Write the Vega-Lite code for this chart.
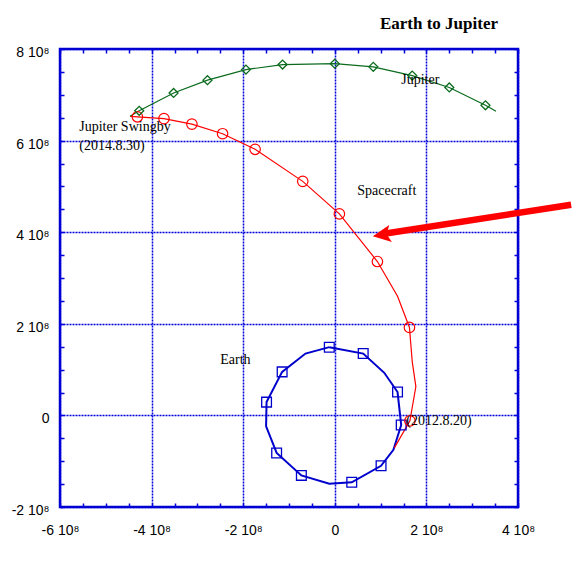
{
  "$schema": "https://vega.github.io/schema/vega-lite/v6.json",
  "width": 458,
  "height": 458,
  "autosize": {"type": "none"},
  "padding": {"left": 60, "top": 49, "right": 54, "bottom": 78},
  "background": "white",
  "config": {
    "view": {"stroke": "#0000cc", "strokeWidth": 2.5},
    "axis": {"labelFont": "Liberation Sans", "labelFontSize": 14, "labelColor": "black", "labelFlush": false, "labelOverlap": false, "labelBound": false, "title": null}
  },
  "title": {"text": "Earth to Jupiter", "anchor": "end", "frame": "group", "font": "Liberation Serif", "fontSize": 17, "fontWeight": "bold", "color": "black", "offset": 13, "dx": -20},
  "datasets": {
    "earth": [
      {"i": 1, "x": -0.12e8, "y": 1.49e8},
      {"i": 2, "x": 0.62e8, "y": 1.35e8},
      {"i": 3, "x": 1.08e8, "y": 0.93e8},
      {"i": 4, "x": 1.37e8, "y": 0.51e8},
      {"i": 5, "x": 1.45e8, "y": -0.21e8},
      {"i": 6, "x": 1.28e8, "y": -0.75e8},
      {"i": 7, "x": 1.01e8, "y": -1.10e8},
      {"i": 8, "x": 0.37e8, "y": -1.46e8},
      {"i": 9, "x": -0.12e8, "y": -1.49e8},
      {"i": 10, "x": -0.73e8, "y": -1.31e8},
      {"i": 11, "x": -1.27e8, "y": -0.82e8},
      {"i": 12, "x": -1.50e8, "y": -0.24e8},
      {"i": 13, "x": -1.49e8, "y": 0.29e8},
      {"i": 14, "x": -1.15e8, "y": 0.95e8},
      {"i": 15, "x": -0.64e8, "y": 1.35e8},
      {"i": 16, "x": -0.12e8, "y": 1.49e8}
    ],
    "earthMarks": [
      {"x": -0.12e8, "y": 1.49e8},
      {"x": 0.62e8, "y": 1.35e8},
      {"x": 1.37e8, "y": 0.51e8},
      {"x": 1.45e8, "y": -0.21e8},
      {"x": 1.01e8, "y": -1.10e8},
      {"x": 0.37e8, "y": -1.46e8},
      {"x": -0.73e8, "y": -1.31e8},
      {"x": -1.27e8, "y": -0.82e8},
      {"x": -1.49e8, "y": 0.29e8},
      {"x": -1.15e8, "y": 0.95e8}
    ],
    "craft": [
      {"i": 1, "x": -4.47e8, "y": 6.53e8},
      {"i": 2, "x": -4.31e8, "y": 6.52e8},
      {"i": 3, "x": -3.73e8, "y": 6.48e8},
      {"i": 4, "x": -3.12e8, "y": 6.36e8},
      {"i": 5, "x": -2.45e8, "y": 6.15e8},
      {"i": 6, "x": -1.74e8, "y": 5.81e8},
      {"i": 7, "x": -0.70e8, "y": 5.11e8},
      {"i": 8, "x": 0.10e8, "y": 4.40e8},
      {"i": 9, "x": 0.93e8, "y": 3.36e8},
      {"i": 10, "x": 1.37e8, "y": 2.60e8},
      {"i": 11, "x": 1.63e8, "y": 1.92e8},
      {"i": 12, "x": 1.69e8, "y": 1.18e8},
      {"i": 13, "x": 1.77e8, "y": 0.63e8},
      {"i": 14, "x": 1.64e8, "y": -0.12e8},
      {"i": 15, "x": 1.30e8, "y": -0.71e8}
    ],
    "craftMarks": [
      {"x": -4.31e8, "y": 6.52e8},
      {"x": -3.73e8, "y": 6.48e8},
      {"x": -3.12e8, "y": 6.36e8},
      {"x": -2.45e8, "y": 6.15e8},
      {"x": -1.74e8, "y": 5.81e8},
      {"x": -0.70e8, "y": 5.11e8},
      {"x": 0.10e8, "y": 4.40e8},
      {"x": 0.93e8, "y": 3.36e8},
      {"x": 1.63e8, "y": 1.92e8},
      {"x": 1.64e8, "y": -0.12e8}
    ],
    "jupiter": [
      {"i": 1, "x": -4.47e8, "y": 6.53e8},
      {"i": 2, "x": -4.27e8, "y": 6.65e8},
      {"i": 3, "x": -3.52e8, "y": 7.04e8},
      {"i": 4, "x": -2.78e8, "y": 7.32e8},
      {"i": 5, "x": -1.94e8, "y": 7.55e8},
      {"i": 6, "x": -1.14e8, "y": 7.66e8},
      {"i": 7, "x": 0.00e8, "y": 7.68e8},
      {"i": 8, "x": 0.84e8, "y": 7.61e8},
      {"i": 9, "x": 1.69e8, "y": 7.42e8},
      {"i": 10, "x": 2.50e8, "y": 7.16e8},
      {"i": 11, "x": 3.29e8, "y": 6.77e8},
      {"i": 12, "x": 3.52e8, "y": 6.64e8}
    ],
    "jupiterMarks": [
      {"x": -4.27e8, "y": 6.65e8},
      {"x": -3.52e8, "y": 7.04e8},
      {"x": -2.78e8, "y": 7.32e8},
      {"x": -1.94e8, "y": 7.55e8},
      {"x": -1.14e8, "y": 7.66e8},
      {"x": 0.00e8, "y": 7.68e8},
      {"x": 0.84e8, "y": 7.61e8},
      {"x": 1.69e8, "y": 7.42e8},
      {"x": 2.50e8, "y": 7.16e8},
      {"x": 3.29e8, "y": 6.77e8}
    ],
    "labels": [
      {"x": -5.58e8, "y": 6.30e8, "text": "Jupiter Swingby"},
      {"x": -5.58e8, "y": 5.89e8, "text": "(2014.8.30)"},
      {"x": 0.49e8, "y": 4.91e8, "text": "Spacecraft"},
      {"x": 1.45e8, "y": 7.33e8, "text": "Jupiter"},
      {"x": -2.50e8, "y": 1.22e8, "text": "Earth"},
      {"x": 1.56e8, "y": -0.12e8, "text": "(2012.8.20)"}
    ],
    "arrow": [
      {"x": 5.16e8, "y": 4.60e8, "x2": 1.04e8, "y2": 3.96e8, "tx": 0.83e8, "ty": 3.91e8}
    ]
  },
  "layer": [
    {
      "data": {"name": "earth"},
      "mark": {"type": "line", "color": "#0000cc", "strokeWidth": 2},
      "encoding": {
        "x": {"field": "x", "type": "quantitative", "scale": {"domain": [-6e8, 4e8], "nice": false, "zero": false},
          "axis": {"orient": "bottom", "values": [-6e8, -4e8, -2e8, 0, 2e8, 4e8], "labelExpr": "datum.value == 0 ? '0' : (datum.value / 1e8) + '  10⁸'", "grid": true, "gridColor": "#0000dd", "gridDash": [2, 1], "gridWidth": 1.5, "gridOpacity": 1, "domain": false, "ticks": false, "labelPadding": 16, "labelAlign": "center"}},
        "y": {"field": "y", "type": "quantitative", "scale": {"domain": [-2e8, 8e8], "nice": false, "zero": false},
          "axis": {"orient": "left", "values": [-2e8, 0, 2e8, 4e8, 6e8, 8e8], "labelExpr": "datum.value == 0 ? '0' : (datum.value / 1e8) + '  10⁸'", "grid": true, "gridColor": "#0000dd", "gridDash": [2, 1], "gridWidth": 1.5, "gridOpacity": 1, "domain": false, "ticks": false, "labelPadding": 11, "labelOffset": 3.5}},
        "order": {"field": "i", "type": "quantitative"}
      }
    },
    {
      "data": {"name": "craft"},
      "mark": {"type": "line", "color": "#ff0000", "strokeWidth": 1.2},
      "encoding": {
        "x": {"field": "x", "type": "quantitative", "scale": {"domain": [-6e8, 4e8], "nice": false, "zero": false},
          "axis": {"orient": "bottom", "values": [-6e8, -5.5e8, -5e8, -4.5e8, -4e8, -3.5e8, -3e8, -2.5e8, -2e8, -1.5e8, -1e8, -0.5e8, 0, 0.5e8, 1e8, 1.5e8, 2e8, 2.5e8, 3e8, 3.5e8, 4e8], "labels": false, "grid": false, "domain": false, "ticks": true, "tickSize": -4, "tickColor": "#0000dd", "tickWidth": 1.5}},
        "y": {"field": "y", "type": "quantitative", "scale": {"domain": [-2e8, 8e8], "nice": false, "zero": false},
          "axis": {"orient": "left", "values": [-2e8, -1.5e8, -1e8, -0.5e8, 0, 0.5e8, 1e8, 1.5e8, 2e8, 2.5e8, 3e8, 3.5e8, 4e8, 4.5e8, 5e8, 5.5e8, 6e8, 6.5e8, 7e8, 7.5e8, 8e8], "labels": false, "grid": false, "domain": false, "ticks": true, "tickSize": -4, "tickColor": "#0000dd", "tickWidth": 1.5}},
        "order": {"field": "i", "type": "quantitative"}
      }
    },
    {
      "data": {"name": "jupiter"},
      "mark": {"type": "line", "color": "#0a6b1e", "strokeWidth": 1.2},
      "encoding": {
        "x": {"field": "x", "type": "quantitative", "scale": {"domain": [-6e8, 4e8], "nice": false, "zero": false},
          "axis": {"orient": "top", "values": [-6e8, -5.5e8, -5e8, -4.5e8, -4e8, -3.5e8, -3e8, -2.5e8, -2e8, -1.5e8, -1e8, -0.5e8, 0, 0.5e8, 1e8, 1.5e8, 2e8, 2.5e8, 3e8, 3.5e8, 4e8], "labels": false, "grid": false, "domain": false, "ticks": true, "tickSize": -4, "tickColor": "#0000dd", "tickWidth": 1.5}},
        "y": {"field": "y", "type": "quantitative", "scale": {"domain": [-2e8, 8e8], "nice": false, "zero": false},
          "axis": {"orient": "right", "values": [-2e8, -1.5e8, -1e8, -0.5e8, 0, 0.5e8, 1e8, 1.5e8, 2e8, 2.5e8, 3e8, 3.5e8, 4e8, 4.5e8, 5e8, 5.5e8, 6e8, 6.5e8, 7e8, 7.5e8, 8e8], "labels": false, "grid": false, "domain": false, "ticks": true, "tickSize": -4, "tickColor": "#0000dd", "tickWidth": 1.5}},
        "order": {"field": "i", "type": "quantitative"}
      }
    },
    {
      "data": {"name": "earthMarks"},
      "mark": {"type": "point", "shape": "square", "filled": false, "color": "#0000cc", "size": 95, "strokeWidth": 1.3, "opacity": 1},
      "encoding": {
        "x": {"field": "x", "type": "quantitative", "scale": {"domain": [-6e8, 4e8], "nice": false, "zero": false}, "axis": null},
        "y": {"field": "y", "type": "quantitative", "scale": {"domain": [-2e8, 8e8], "nice": false, "zero": false}, "axis": null}
      }
    },
    {
      "data": {"name": "craftMarks"},
      "mark": {"type": "point", "shape": "circle", "filled": false, "color": "#ff0000", "size": 110, "strokeWidth": 1.2, "opacity": 1},
      "encoding": {
        "x": {"field": "x", "type": "quantitative", "scale": {"domain": [-6e8, 4e8], "nice": false, "zero": false}, "axis": null},
        "y": {"field": "y", "type": "quantitative", "scale": {"domain": [-2e8, 8e8], "nice": false, "zero": false}, "axis": null}
      }
    },
    {
      "data": {"name": "jupiterMarks"},
      "mark": {"type": "point", "shape": "diamond", "filled": false, "color": "#0a6b1e", "size": 80, "strokeWidth": 1.3, "opacity": 1},
      "encoding": {
        "x": {"field": "x", "type": "quantitative", "scale": {"domain": [-6e8, 4e8], "nice": false, "zero": false}, "axis": null},
        "y": {"field": "y", "type": "quantitative", "scale": {"domain": [-2e8, 8e8], "nice": false, "zero": false}, "axis": null}
      }
    },
    {
      "data": {"name": "labels"},
      "mark": {"type": "text", "align": "left", "baseline": "middle", "font": "Liberation Serif", "fontSize": 14, "color": "black"},
      "encoding": {
        "x": {"field": "x", "type": "quantitative", "scale": {"domain": [-6e8, 4e8], "nice": false, "zero": false}, "axis": null},
        "y": {"field": "y", "type": "quantitative", "scale": {"domain": [-2e8, 8e8], "nice": false, "zero": false}, "axis": null},
        "text": {"field": "text", "type": "nominal"}
      }
    },
    {
      "data": {"name": "arrow"},
      "mark": {"type": "rule", "color": "#ff0000", "strokeWidth": 6.5, "clip": false},
      "encoding": {
        "x": {"field": "x", "type": "quantitative", "scale": {"domain": [-6e8, 4e8], "nice": false, "zero": false}, "axis": null},
        "y": {"field": "y", "type": "quantitative", "scale": {"domain": [-2e8, 8e8], "nice": false, "zero": false}, "axis": null},
        "x2": {"field": "x2"},
        "y2": {"field": "y2"}
      }
    },
    {
      "data": {"name": "arrow"},
      "mark": {"type": "point", "shape": "M 0 0 L 2 -0.95 L 1.55 0 L 2 0.95 Z", "filled": true, "color": "#ff0000", "size": 324, "angle": 351, "opacity": 1, "strokeWidth": 0},
      "encoding": {
        "x": {"field": "tx", "type": "quantitative", "scale": {"domain": [-6e8, 4e8], "nice": false, "zero": false}, "axis": null},
        "y": {"field": "ty", "type": "quantitative", "scale": {"domain": [-2e8, 8e8], "nice": false, "zero": false}, "axis": null}
      }
    }
  ],
  "resolve": {"axis": {"x": "independent", "y": "independent"}}
}
